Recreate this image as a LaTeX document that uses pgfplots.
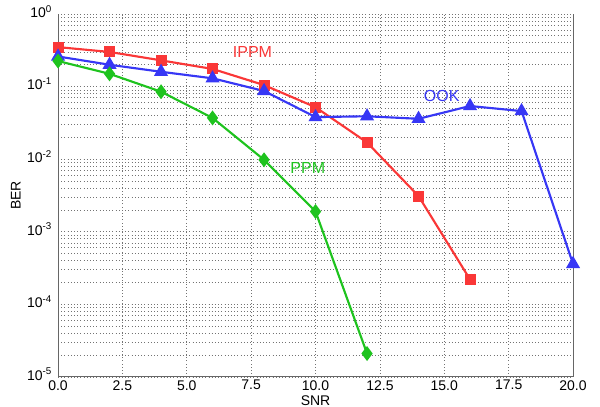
\documentclass[border=0pt]{standalone}
\usepackage{fontspec}
\setmainfont{Liberation Sans}
\usepackage{pgfplots}
\pgfplotsset{compat=1.18}

\definecolor{ippm}{RGB}{250,55,55}
\definecolor{ook}{RGB}{55,55,245}
\definecolor{ppm}{RGB}{30,195,30}

\begin{document}
\begin{tikzpicture}
\begin{axis}[
  scale only axis,
  width=386pt, height=272pt,
  xmin=0, xmax=20,
  ymode=log, ymin=1e-5, ymax=1,
  axis x line*=bottom,
  axis y line*=left,
  axis line style={gray!80!black, line width=0.8pt, -},
  xtick={0,2.5,...,20},
  xticklabel={\pgfmathprintnumber[fixed, fixed zerofill, precision=1]{\tick}},
  ytick={1e-5,1e-4,1e-3,1e-2,1e-1,1},
  yticklabels={10\textsuperscript{-5},10\textsuperscript{-4},10\textsuperscript{-3},10\textsuperscript{-2},10\textsuperscript{-1},10\textsuperscript{0}},
  /pgf/number format/assume math mode=true,
  tick label style={font=\fontsize{10.5}{12}\selectfont},
  xticklabel style={yshift=1pt},
  yticklabel style={xshift=-1pt, yshift=2pt},
  major tick length=0pt, minor tick length=0pt,
  grid=both,
  major grid style={dotted, gray!90!black, line width=0.6pt},
  minor grid style={dotted, gray!90!black, line width=0.6pt},
  xminorgrids=false,
  xlabel={SNR}, ylabel={BER},
  label style={font=\fontsize{10.5}{12}\selectfont},
  xlabel style={yshift=3pt},
  ylabel style={yshift=-2pt},
  clip=false,
]
\addplot[ippm, line width=1.6pt, mark=square*, mark size=3.3pt] coordinates {
  (0,0.35) (2,0.30) (4,0.23) (6,0.175) (8,0.105) (10,0.052) (12,0.017) (14,0.0031) (16,0.00022)
};
\addplot[ook, line width=1.6pt, mark=triangle*, mark size=4.5pt] coordinates {
  (0,0.26) (2,0.20) (4,0.16) (6,0.13) (8,0.087) (10,0.038) (12,0.039) (14,0.036) (16,0.054) (18,0.046) (20,0.00036)
};
\addplot[ppm, line width=1.6pt, mark=diamond*, mark size=4.3pt] coordinates {
  (0,0.225) (2,0.15) (4,0.085) (6,0.037) (8,0.0098) (10,0.0019) (12,0.000021)
};
\draw[gray!80!black, line width=0.8pt] (rel axis cs:1,0) -- (rel axis cs:1,1);
\node[text=ippm, font=\fontsize{12}{14}\selectfont] at (axis cs:7.55,0.3) {IPPM};
\node[text=ook, font=\fontsize{12}{14}\selectfont] at (axis cs:14.9,0.075) {OOK};
\node[text=ppm, font=\fontsize{12}{14}\selectfont] at (axis cs:9.7,0.0075) {PPM};
\end{axis}
\pgfresetboundingbox
\path ([xshift=-43.5pt,yshift=-22.5pt]current axis.south west) rectangle ([xshift=20.2pt,yshift=10.5pt]current axis.north east);
\end{tikzpicture}
\end{document}
